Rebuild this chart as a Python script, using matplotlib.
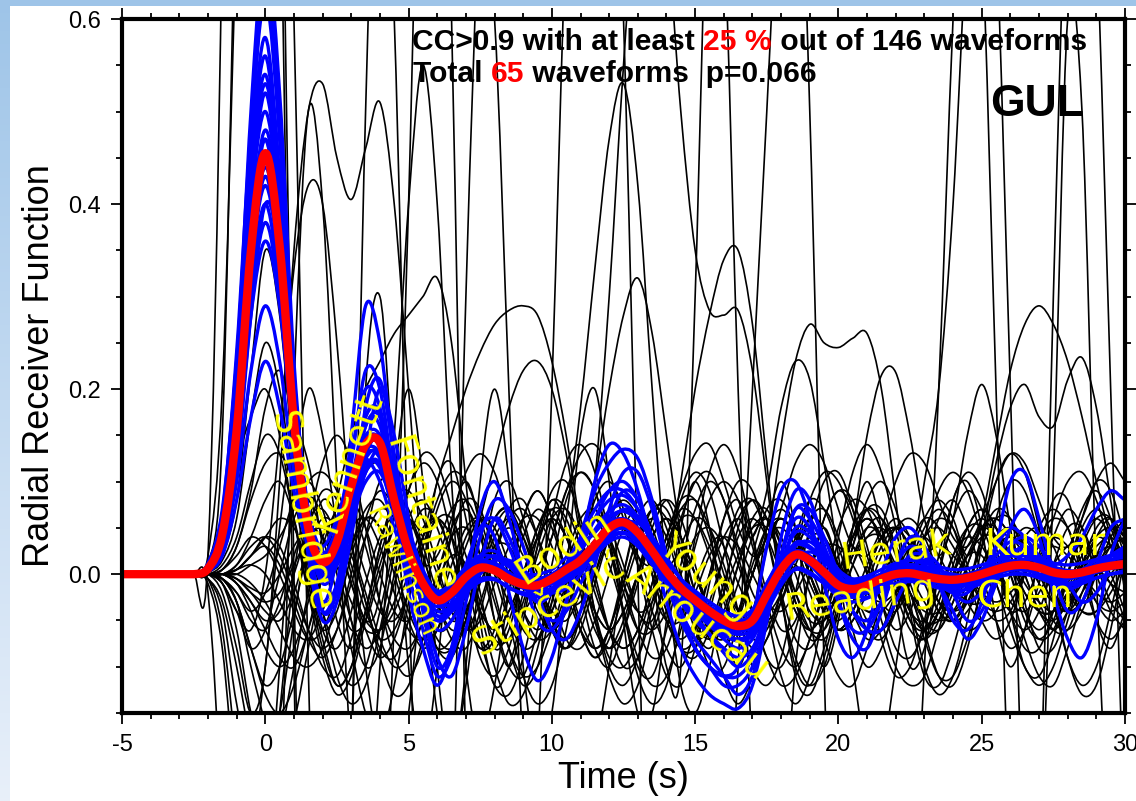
import numpy as np
import matplotlib
matplotlib.use("Agg")
import matplotlib.pyplot as plt
from matplotlib.patches import Rectangle, PathPatch
from matplotlib.path import Path
from matplotlib.ticker import MultipleLocator, FixedLocator, FixedFormatter

# ---------------- data (amplitudes in 1/1000 units) ----------------
# sample times: -2.5 s ... 30 s every 0.5 s (66 samples); all traces are 0 before -2.5 s
time_start = -5.0
time_samples = np.arange(-2.5, 30.01, 0.5)

mean_trace = [0,6,43,155,350,455,355,165,50,13, 35,95,140,142,80,25,-10,-28,-20,-3,
              7,4,-5,-11,-12,-5,5,15,32,50, 56,45,25,3,-15,-28,-40,-50,-56,-50,
              -22,5,21,15,2,-12,-16,-12,-5,0, 1,-2,-5,-6,-4,0,5,9,10,7, 2,0,2,6,9,11]

blue_01 = [0,10,60,220,500,680,520,230,60,0, 20,90,160,170,100,30,-20,-50,-40,-10, 20,25,10,-10,-20,-15,5,30,60,90, 100,80,40,0,-30,-50,-65,-80,-90,-80, -40,10,45,40,20,-5,-20,-25,-15,0, 10,5,-10,-20,-15,0,20,35,30,15, 0,-10,-5,10,20,25]
blue_02 = [0,4,35,120,280,360,290,140,40,-10, 10,60,110,120,70,20,-5,-20,-10,5, 15,10,0,-5,-5,0,10,20,35,45, 50,40,20,0,-15,-25,-35,-42,-45,-40, -15,10,25,18,5,-8,-10,-6,0,5, 8,5,0,-2,0,5,10,14,13,8, 4,2,5,10,12,14]
blue_03 = [0,12,70,230,450,580,430,190,40,-30, 20,150,290,250,120,40,0,-30,-40,-20, 0,15,15,5,-10,-20,-15,0,25,55, 70,60,35,5,-20,-40,-55,-70,-80,-70, -35,0,30,35,20,0,-15,-20,-10,5, 15,10,-5,-15,-10,5,15,20,15,5, -5,-10,-5,5,15,20]
blue_04 = [0,8,50,180,400,500,390,170,20,-50, -30,40,130,200,150,60,-30,-90,-110,-60, 10,60,40,0,-30,-50,-40,-10,20,60, 90,80,40,0,-40,-70,-90,-110,-130,-110, -50,20,70,60,30,-10,-40,-50,-30,0, 20,20,0,-20,-30,-20,0,20,30,20, 0,-15,-10,5,20,30]
blue_05 = [0,5,40,150,330,420,330,150,45,15, 40,90,130,125,70,20,-10,-25,-15,0, 10,8,-2,-10,-10,-4,6,16,30,45, 50,42,24,5,-12,-25,-35,-45,-50,-44, -20,5,18,13,3,-10,-13,-10,-3,2, 3,0,-3,-4,-2,2,7,10,10,7, 3,1,3,7,9,10]
blue_06 = [0,10,65,240,480,620,470,200,55,5, 40,120,220,200,100,20,-30,-60,-50,-20, 10,20,10,-5,-15,-10,10,35,60,80, 85,70,40,5,-25,-45,-65,-85,-100,-85, -40,10,50,45,25,5,-10,-15,-10,5, 15,15,5,-5,-5,5,15,25,25,15, 5,0,5,15,20,20]
blue_07 = [0,5,38,140,310,400,310,140,40,20, 50,100,135,130,75,25,-5,-20,-15,5, 15,10,0,-8,-8,0,10,20,30,40, 45,38,22,5,-10,-20,-30,-40,-45,-40, -15,10,22,17,5,-5,-8,-5,0,5, 5,2,-2,-3,-1,3,7,10,9,6, 2,0,2,5,8,10]
blue_08 = [0,6,45,165,370,480,380,175,50,5, 25,80,125,130,70,15,-20,-40,-35,-15, -5,-5,-15,-20,-20,-15,-5,5,20,35, 40,30,10,-10,-30,-40,-50,-60,-65,-60, -35,-10,5,0,-10,-20,-25,-20,-15,-10, -8,-10,-15,-15,-12,-8,-3,0,0,-3, -8,-10,-8,-4,0,2]
blue_09 = [0,7,50,180,400,520,400,180,55,20, 45,105,150,150,90,35,0,-18,-10,8, 20,18,8,0,0,5,18,30,45,62, 68,58,38,15,-5,-18,-30,-40,-45,-38, -10,18,32,28,15,2,-5,-2,5,12, 15,12,8,5,6,10,15,20,20,17, 12,10,12,16,20,22]
blue_10 = [0,4,30,120,290,380,300,150,55,30, 60,110,125,100,50,10,-15,-30,-20,0, 10,5,-5,-15,-15,-10,0,10,25,40, 45,35,15,-5,-25,-40,-50,-60,-60,-50, -20,10,25,20,5,-10,-15,-10,0,10, 10,5,-5,-10,-5,5,15,15,10,0, -5,-5,0,5,10,10]
blue_11 = [0,8,55,200,430,540,410,180,40,-40, -20,60,180,210,130,40,-40,-100,-80,-10, 70,100,60,0,-50,-60,-30,30,100,140, 130,90,30,-30,-80,-110,-130,-140,-145,-120, -50,40,90,80,30,-30,-70,-80,-40,10, 40,30,-10,-50,-60,-30,30,100,110,60, 0,-40,-30,10,50,60]
blue_12 = [0,6,45,160,360,470,360,160,30,-30, -10,70,160,160,80,0,-60,-110,-90,-30, 40,80,70,30,-20,-60,-70,-40,10,70, 110,110,70,10,-40,-80,-100,-120,-120,-100, -50,20,70,70,40,0,-40,-60,-60,-30, 0,20,10,-20,-50,-40,0,50,70,40, -20,-70,-90,-50,20,60]
blue_13 = [0,6,42,150,340,440,345,160,48,10, 30,90,138,140,82,28,-8,-25,-18,-2, 6,2,-8,-14,-14,-7,3,12,28,46, 52,42,22,0,-18,-32,-45,-55,-60,-54, -26,2,18,12,0,-14,-19,-15,-8,-3, -1,-4,-7,-8,-6,-2,3,7,8,5, 0,-2,0,4,7,9]
blue_14 = [0,7,47,170,380,470,365,170,52,16, 40,100,145,145,85,30,-5,-22,-16,0, 10,8,0,-6,-8,-2,8,18,36,55, 60,50,28,6,-12,-24,-36,-46,-52,-46, -18,8,24,18,4,-10,-14,-10,-2,3, 4,1,-2,-3,-1,3,8,12,12,9, 4,2,4,8,11,13]
blue_15 = [0,5,40,150,350,450,350,160,30,-40, -10,80,170,170,80,-20,-80,-120,-80,0, 50,40,-20,-80,-115,-90,-30,40,90,120, 135,125,80,20,-40,-80,-100,-110,-110,-90, -40,20,60,50,10,-30,-60,-60,-30,10, 30,20,-10,-40,-70,-50,-10,30,40,30, 10,-10,-30,-20,10,30]
blue_16 = [0,9,60,210,440,560,420,190,60,20, 50,130,200,180,90,20,-30,-50,-30,10, 50,60,30,-10,-30,-20,10,40,70,90, 90,70,30,-10,-50,-80,-100,-110,-100,-50, 30,90,100,60,-10,-70,-90,-60,0,40, 50,30,0,-20,-20,0,30,50,40,20, 10,20,40,70,90,80]
blue_17 = [0,3,20,80,170,230,180,90,30,0, 20,60,100,110,70,25,-5,-20,-15,0, 10,8,0,-8,-10,-5,5,15,28,40, 45,38,20,0,-15,-28,-38,-46,-50,-44, -18,5,18,14,3,-8,-12,-9,-3,2, 3,0,-3,-4,-2,2,6,9,9,6, 2,0,2,5,8,9]
blue_18 = [0,4,28,100,220,290,230,110,35,5, 30,80,120,115,65,15,-20,-35,-25,-5, 5,5,-5,-12,-12,-5,5,18,35,50, 55,45,25,0,-20,-35,-48,-58,-62,-55, -25,5,22,18,5,-8,-12,-8,0,4, 5,2,-2,-4,-2,3,8,12,12,8, 3,1,3,7,10,12]
blue_19 = [0,9,62,230,470,640,490,215,58,8, 30,100,170,175,95,25,-20,-45,-35,-8, 12,12,2,-10,-15,-8,6,25,48,68, 75,62,34,4,-22,-38,-52,-64,-70,-62, -28,8,34,30,14,-4,-14,-16,-8,4, 10,6,-4,-10,-8,2,14,22,20,12, 4,-2,2,10,16,18]
blue_20 = [0,5,40,145,330,430,335,150,40,-5, 15,70,115,120,65,10,-25,-45,-40,-20, -8,-6,-14,-22,-24,-18,-8,4,20,38, 44,34,14,-8,-28,-42,-55,-66,-72,-66, -40,-12,6,2,-10,-24,-30,-26,-18,-10, -6,-8,-14,-18,-16,-10,-4,0,0,-4, -10,-12,-10,-4,0,4]
blue_21 = [0,8,55,195,420,530,420,200,70,25, 30,80,130,150,110,50,5,-20,-25,-10, 5,15,12,2,-8,-10,-2,10,25,42, 55,55,40,18,-5,-22,-35,-46,-54,-56, -38,-8,16,24,16,4,-6,-10,-6,2, 8,8,4,0,-2,0,6,12,16,14, 8,4,4,8,12,14]
blue_22 = [0,4,30,115,280,400,350,200,70,10, 10,55,110,135,100,45,0,-30,-32,-15, 2,5,-5,-15,-20,-15,-5,8,25,42, 50,40,20,-5,-25,-40,-52,-60,-58,-42, -10,14,20,10,-6,-18,-22,-18,-10,-5, -4,-6,-10,-12,-10,-5,0,4,4,0, -4,-5,-2,2,6,8]

black_01 = [0,0,-20,-80,-150,-100,100,350,500,530, 450,405,460,510,400,200,0,-150,-200,-120, 0,80,100,60,0,-60,-80,-40,20,60, 50,10,-40,-80,-100,-60,0,60,80,40, -20,-60,-50,0,60,90,70,20,-30,-60, -40,10,60,80,50,0,-50,-80,-60,-10, 40,70,50,0,-40,-60]
black_02 = [0,0,-10,-40,-60,0,150,330,420,400, 250,50,-100,-200,-250,-150,0,100,120,60, -20,-80,-60,0,50,70,40,-10,-60,-80, -50,0,50,80,60,10,-40,-60,-40,0, 40,60,40,0,-40,-60,-40,0,40,50, 30,-10,-40,-50,-30,10,40,50,30,0, -30,-40,-20,10,30,40]
black_03 = [0,20,700,2000,2500,2000,1000,0,-800,-1200, -800,-200,200,300,100,-100,-200,-100,50,100, 50,-50,-100,-50,30,80,50,-20,-80,-100, -60,0,60,80,40,-20,-60,-50,-10,40, 60,40,0,-40,-50,-20,20,50,40,0, -40,-50,-20,20,40,30,0,-30,-40,-20, 10,30,30,10,-10,-20]
black_04 = [0,-10,-80,-250,-400,-300,-100,100,200,150, 50,-50,-100,-80,0,60,80,50,0,-50, -80,-60,0,60,90,60,0,-60,-90,-60, 0,60,80,50,0,-50,-70,-40,10,50, 60,30,-20,-60,-70,-40,10,50,60,30, -10,-50,-60,-30,10,50,60,40,0,-40, -60,-40,0,40,60,40]
black_05 = [0,-5,-40,-140,-200,-100,50,150,120,30, -50,-80,-40,30,80,70,20,-30,-60,-50, -10,30,50,30,-10,-40,-50,-20,20,50, 50,20,-20,-50,-50,-20,20,40,30,0, -30,-40,-20,10,30,30,10,-20,-30,-20, 0,20,30,20,0,-20,-30,-20,0,20, 30,20,0,-20,-30,-20]
black_06 = [0,5,40,120,170,200,150,60,-20,-60, -40,20,60,50,0,-50,-80,-60,-10,40, 60,40,0,-40,-60,-40,0,40,60,40, 0,-40,-60,-40,0,40,50,30,-10,-40, -50,-30,10,40,40,10,-20,-40,-30,0, 30,40,20,-10,-30,-30,-10,20,30,20, 0,-20,-30,-20,0,20]
black_07 = [0,2,20,80,220,350,280,120,10,-60, -80,-40,40,100,90,30,-30,-80,-90,-50, 10,60,70,30,-20,-60,-70,-40,10,60, 80,60,10,-40,-80,-90,-60,-10,40,60, 40,0,-40,-60,-40,0,40,60,40,0, -40,-60,-40,0,30,50,40,10,-20,-40, -40,-20,10,30,40,20]
black_08 = [0,2,15,60,170,250,200,90,0,-70, -120,-100,-40,20,60,60,20,-30,-70,-80, -40,20,70,80,40,-20,-70,-80,-50,0, 50,70,50,0,-50,-70,-60,-20,20,50, 50,20,-20,-50,-50,-20,20,40,40,10, -20,-40,-40,-10,20,40,40,20,-10,-30, -40,-20,0,20,30,20]
black_09 = [0,0,10,40,100,150,130,60,-20,-90, -130,-110,-50,10,50,60,40,0,-40,-60, -50,-10,30,60,60,30,-20,-60,-80,-60, -10,40,70,60,20,-30,-70,-80,-50,0, 50,70,50,10,-30,-60,-50,-20,20,50, 60,40,0,-40,-60,-50,-10,30,50,40, 10,-20,-40,-40,-20,10]
black_10 = [0,0,-5,-30,-80,-120,-100,-40,30,80, 60,0,-50,-20,150,400,550,400,100,-100, -180,-120,-20,60,90,60,0,-60,-90,-70, -20,30,70,70,30,-20,-60,-70,-40,10, 50,60,40,0,-40,-60,-50,-10,30,50, 40,10,-30,-50,-40,-10,30,50,40,10, -20,-40,-30,0,30,40]
black_11 = [0,0,0,-10,-30,-60,-90,-100,-60,0, 80,150,200,230,260,280,300,320,250,100, -50,-120,-100,-40,30,70,60,10,-50,-80, -60,-10,40,60,40,0,-40,-60,-40,0, 40,50,30,-10,-40,-50,-30,10,40,50, 30,0,-30,-40,-30,0,30,40,30,0, -30,-40,-30,0,20,30]
black_12 = [0,0,-5,-20,-50,-60,-30,20,60,70, 40,-10,-60,-90,-70,-20,40,100,150,200, 240,270,285,290,280,230,150,50,-40,-100, -120,-90,-30,30,70,80,50,0,-50,-80, -70,-30,20,60,70,40,-10,-50,-60,-40, 0,40,60,50,10,-30,-50,-40,0,40, 60,50,10,-30,-50,-40]
black_13 = [0,0,0,5,20,40,30,-10,-60,-100, -110,-70,-10,40,60,30,-20,-60,-50,0, 60,120,180,220,230,200,130,40,-40,-90, -100,-70,-20,30,60,60,30,-10,-40,-50, -30,0,30,50,40,10,-20,-40,-40,-20, 10,40,50,30,0,-30,-40,-30,0,30, 40,30,0,-30,-40,-30]
black_14 = [0,0,0,-10,-40,-80,-100,-80,-30,30, 70,70,30,-30,-70,-80,-50,0,50,70, 40,-20,-80,-120,-100,-30,60,180,330,470, 530,420,200,0,-120,-150,-100,-20,50,80, 60,10,-40,-60,-40,0,40,60,40,0, -40,-60,-40,0,40,60,40,0,-40,-60, -40,0,40,60,40,0]
black_15 = [0,0,0,5,20,30,10,-30,-70,-90, -60,0,60,90,70,20,-40,-80,-80,-40, 0,30,30,0,-40,-60,-40,20,100,200, 280,320,260,150,40,-50,-100,-100,-50,20, 70,80,50,0,-40,-60,-40,0,40,50, 30,0,-30,-40,-20,10,40,40,20,-10, -30,-30,-10,20,30,20]
black_16 = [0,0,-10,-40,-80,-60,0,60,80,40, -20,-60,-50,0,50,60,30,-20,-50,-40, 0,40,60,40,0,-50,-80,-40,100,300, 550,750,800,700,500,350,285,280,285,220, 100,-20,-100,-120,-80,-20,40,70,60,20, -20,-50,-50,-20,20,50,50,20,-20,-40, -40,-10,20,40,30,0]
black_17 = [0,0,5,20,40,30,0,-40,-70,-60, -20,30,60,50,10,-40,-70,-60,-20,30, 60,50,10,-40,-70,-60,-20,30,60,50, 10,-40,-50,0,100,200,280,340,350,270, 120,-20,-110,-130,-90,-30,30,70,70,30, -20,-60,-60,-30,10,50,60,40,0,-40, -50,-30,10,40,50,30]
black_18 = [0,0,0,-5,-20,-40,-50,-20,30,60, 50,10,-40,-70,-60,-20,30,60,60,20, -30,-70,-70,-30,20,60,70,40,-10,-60, -80,-60,-10,40,70,60,20,-30,-60,-40, 30,140,230,270,250,245,255,260,200,80, -40,-110,-120,-80,-20,40,70,60,20,-30, -60,-60,-20,20,50,40]
black_19 = [0,0,0,10,30,40,20,-20,-60,-80, -60,-10,40,70,60,20,-30,-70,-80,-50, 0,50,70,50,0,-50,-70,-50,0,50, 70,50,0,-50,-70,-50,0,40,60,40, 90,180,230,210,120,20,-60,-100,-80,-30, 30,60,50,10,-30,-50,-40,0,40,50, 30,-10,-40,-40,-10,20]
black_20 = [0,0,0,-5,-15,-20,0,30,50,40, 10,-30,-60,-60,-30,10,50,60,40,0, -40,-60,-40,0,40,60,40,0,-40,-60, -40,0,40,60,40,0,-40,-60,-40,0, 40,60,40,0,-30,-20,50,150,215,218, 150,60,20,60,150,205,150,50,-30,-80, -80,-40,10,50,60,30]
black_21 = [0,0,0,5,10,0,-30,-60,-70,-40, 10,50,60,30,-20,-60,-70,-40,10,50, 60,30,-20,-60,-70,-40,10,50,60,30, -20,-60,-60,-20,30,60,50,10,-40,-70, -60,-20,30,60,50,10,-40,-70,-60,-20, 20,60,80,60,20,60,140,220,270,290, 270,230,170,100,40,-10]
black_22 = [0,0,0,-5,-20,-30,-20,10,40,50, 30,-10,-50,-60,-40,0,40,60,40,0, -40,-60,-40,0,40,60,40,0,-40,-60, -40,0,40,60,40,0,-40,-60,-40,0, 40,60,40,0,-40,-60,-40,0,40,60, 40,0,-40,-50,-20,40,120,180,205,170, 160,210,234,180,80,-20]
black_23 = [0,10,150,800,1500,1500,800,-100,-800,-1200, -1300,-1100,-800,-400,-50,400,1000,1200,600,-200, -800,-1000,-900,-600,-200,200,700,1000,1100,1000, 600,0,-600,-900,-1000,-900,-700,-400,-100,200, 500,800,900,500,-100,-600,-800,-900,-800,-600, -400,-100,200,600,900,700,200,-300,-600,-300, 300,800,1000,700,200,-300]
black_24 = [0,20,200,700,1200,1400,1200,600,-100,-600, -700,-200,500,900,600,0,-500,-700,-300,300, 700,600,200,-200,-400,-500,-400,-300,-200,-100, 0,50,0,-100,-100,300,800,700,200,-200, -400,-300,-100,0,50,0,-100,-200,-200,-100, 0,100,200,400,700,900,700,200,-300,-300, 100,600,500,0,-300,-300]
black_25 = [0,-20,-300,-900,-1200,-900,-300,200,500,400, 100,-200,-300,-100,100,200,100,-100,-200,-100, 100,200,100,-100,-200,-150,0,150,200,100, -50,-150,-150,-50,50,100,50,-50,-100,-50, 50,100,50,-50,-100,-50,50,100,50,-30, -100,-80,0,80,100,50,-50,-100,-60,20, 80,80,20,-50,-80,-40]
black_26 = [0,-5,-60,-200,-350,-300,-150,0,80,60, 0,-80,-150,-180,-120,-30,40,60,20,-40, -80,-70,-20,40,70,50,0,-50,-80,-60, -10,40,60,40,-10,-60,-80,-50,10,60, 70,30,-30,-70,-60,-10,40,60,40,-10, -50,-60,-30,20,50,50,10,-40,-60,-40, 10,50,50,10,-30,-50]
black_27 = [0,0,0,0,-10,-30,-60,-90,-100,-80, -30,30,70,80,50,0,-50,-80,-70,-30, 20,60,70,40,-10,-60,-80,-60,-10,40, 70,60,10,-40,-80,-80,-40,20,70,80, 40,-20,-70,-80,-50,0,50,70,50,0, -50,-70,-50,0,50,70,50,0,-50,-70, -50,0,50,70,50,0]
black_28 = [0,0,-5,-20,-40,-20,30,80,100,70, 10,-50,-80,-60,-10,40,70,60,20,-30, -70,-80,-50,0,50,80,70,30,-20,-60, -80,-60,-10,40,80,80,40,-20,-70,-90, -70,-20,40,80,70,30,-20,-60,-70,-40, 10,50,70,50,0,-50,-70,-50,0,50, 70,50,0,-50,-70,-50]
black_29 = [0,0,-5,-30,-80,-130,-150,-120,-60,0, 30,20,-30,-90,-130,-120,-70,-10,20,10, -40,-100,-140,-130,-80,-20,10,0,-50,-110, -140,-120,-60,0,20,0,-50,-110,-140,-110, -50,0,10,-20,-70,-110,-120,-80,-30,0, -20,-70,-110,-110,-70,-20,0,-20,-70,-110, -120,-80,-30,0,-10,-50]
black_30 = [0,0,5,30,80,120,130,100,50,20, 30,70,110,120,90,40,10,20,60,110, 130,110,60,20,10,40,90,130,140,110, 60,20,10,40,90,130,140,100,50,20, 30,70,120,140,120,70,30,20,50,100, 130,120,80,40,30,60,100,130,120,80, 40,30,60,100,120,100]
black_31 = [0,0,0,10,40,80,100,60,-10,-80, -120,-100,-40,30,80,90,60,10,-40,-60, -30,20,60,70,40,0,-30,-30,0,40, 60,40,0,-50,-80,-70,-30,20,60,80, 60,20,-30,-60,-60,-30,10,40,50,30, 0,-30,-50,-40,-10,30,60,60,30,-10, -50,-60,-40,0,40,60]
black_32 = [0,0,-5,-30,-100,-160,-200,-160,-80,0, 60,80,50,0,-40,-50,-20,30,70,80, 50,0,-50,-80,-70,-30,20,60,70,40, -10,-60,-90,-80,-30,30,80,100,80,30, -30,-80,-100,-70,-10,50,80,70,30,-20, -60,-70,-40,10,50,70,50,10,-40,-70, -60,-20,30,60,60,20]
black_33 = [0,0,0,-10,-30,-50,-40,0,50,90, 80,30,-30,-80,-90,-50,10,70,100,80, 20,-50,-100,-110,-60,10,80,110,90,30, -40,-100,-110,-60,10,70,100,80,20,-40, -90,-100,-60,0,60,90,80,30,-30,-80, -90,-60,0,60,90,70,20,-40,-80,-80, -40,20,70,90,60,0]
black_34 = [0,0,0,5,20,40,60,50,10,-40, -90,-120,-100,-40,30,90,120,100,40,-30, -90,-110,-80,-20,40,90,100,60,0,-60, -100,-90,-40,20,80,110,90,30,-40,-100, -120,-90,-20,50,100,110,70,0,-70,-110, -100,-50,20,80,110,90,30,-40,-100,-110, -70,0,60,100,90,40]
black_35 = [0,-5,-30,-100,-180,-220,-180,-100,-20,40, 60,30,-20,-70,-100,-90,-50,0,40,50, 20,-30,-80,-110,-100,-60,-10,30,40,10, -40,-90,-120,-110,-60,-10,30,40,10,-40, -90,-120,-110,-70,-20,20,30,0,-50,-100, -120,-110,-60,-10,20,20,-10,-60,-100,-120, -100,-50,0,20,0,-40]
black_36 = [0,0,0,0,10,20,40,70,100,110, 90,50,0,-40,-50,-20,30,80,110,100, 60,10,-30,-40,-10,40,90,110,90,40, -10,-40,-30,10,60,100,110,80,30,-20, -40,-20,30,80,110,100,60,10,-30,-40, -10,40,90,110,90,40,-10,-40,-30,10, 60,100,110,80,30,-10]
black_37 = [0,0,-10,-60,-150,-200,-150,-50,50,120, 150,120,50,-30,-90,-110,-80,-20,40,80, 70,20,-50,-110,-140,-120,-60,20,80,100, 70,10,-60,-110,-120,-80,-10,60,100,90, 40,-30,-90,-120,-100,-40,30,80,100,70, 10,-60,-110,-120,-80,-10,60,100,90,40, -30,-90,-120,-100,-40,30]
black_38 = [0,0,5,30,90,180,220,160,60,-40, -110,-140,-120,-60,20,90,130,120,70,0, -70,-120,-130,-90,-20,60,120,140,110,40, -40,-110,-140,-120,-50,40,110,140,110,40, -40,-110,-140,-110,-40,40,110,140,110,50, -30,-100,-130,-110,-50,30,100,130,110,50, -20,-90,-130,-120,-60,20]

station_names = ["Sambridge", "Kennett", "Fontaine", "Rawlinson", "Bodin", "Stipčević",
                 "Young", "Arroucau", "Herak", "Reading", "Kumar", "Chen"]
x_ticks = [-5, 0, 5, 10, 15, 20, 25, 30]
y_ticks = [0.0, 0.2, 0.4, 0.6]

# ---------------- figure ----------------
W, H = 1136, 801
fig = plt.figure(figsize=(W / 100, H / 100), dpi=100)

# slide-like background
bg = fig.add_axes([0, 0, 1, 1], zorder=-10)
grad = np.linspace(0, 1, 256).reshape(-1, 1)
top_c = np.array([0.62, 0.77, 0.91])
bot_c = np.array([0.91, 0.94, 0.98])
img = top_c[None, None, :] * (1 - grad[:, :, None]) + bot_c[None, None, :] * grad[:, :, None]
bg.imshow(img, aspect="auto", extent=[0, 1, 0, 1], origin="upper")
bg.add_patch(Rectangle((10 / W, 0), 1 - 10 / W, 1 - 6 / H, transform=bg.transAxes,
                       facecolor="white", edgecolor="none"))
bg.set_xlim(0, 1); bg.set_ylim(0, 1)
bg.axis("off")

ax = fig.add_axes([122 / W, 1 - 713 / H, (1125 - 122) / W, (713 - 19) / H])
ax.set_facecolor("white")

blues = [blue_01, blue_02, blue_03, blue_04, blue_05, blue_06, blue_07, blue_08, blue_09, blue_10,
         blue_11, blue_12, blue_13, blue_14, blue_15, blue_16, blue_17, blue_18, blue_19, blue_20,
         blue_21, blue_22]
blacks = [black_01, black_02, black_03, black_04, black_05, black_06, black_07, black_08,
          black_09, black_10, black_11, black_12, black_13, black_14, black_15, black_16,
          black_17, black_18, black_19, black_20, black_21, black_22, black_23, black_24,
          black_25, black_26, black_27, black_28, black_29, black_30, black_31, black_32,
          black_33, black_34, black_35, black_36, black_37, black_38]

bad = [(i, len(v)) for i, v in enumerate(blues + blacks + [mean_trace]) if len(v) != len(time_samples)]
if bad:
    raise SystemExit("length mismatch: %s" % bad)

def trace_path(vals):
    """Smooth (cubic Hermite/Bezier) path through the sampled values, flat before -2.5 s."""
    x = time_samples
    y = np.asarray(vals, float) / 1000.0
    h = x[1] - x[0]
    m = np.empty_like(y)
    m[1:-1] = (y[2:] - y[:-2]) / (2 * h)
    m[0] = (y[1] - 0.0) / (2 * h)
    m[-1] = (y[-1] - y[-2]) / h
    verts = [(time_start, 0.0), (x[0], y[0])]
    codes = [Path.MOVETO, Path.LINETO]
    for i in range(len(x) - 1):
        verts += [(x[i] + h / 3, y[i] + m[i] * h / 3),
                  (x[i + 1] - h / 3, y[i + 1] - m[i + 1] * h / 3),
                  (x[i + 1], y[i + 1])]
        codes += [Path.CURVE4] * 3
    return Path(verts, codes)

def draw(vals, color, lw, z):
    ax.add_patch(PathPatch(trace_path(vals), facecolor="none", edgecolor=color, lw=lw,
                           zorder=z, joinstyle="round", capstyle="butt"))

for v in blacks:
    draw(v, "black", 1.2, 1)
for v in blues:
    draw(v, "#0000ff", 2.4, 2)
draw(mean_trace, "#ff0000", 6.0, 3)

ax.set_xlim(-5, 30)
ax.set_ylim(-0.15, 0.6)

TF = "Liberation Sans"
ax.xaxis.set_major_locator(FixedLocator(x_ticks))
ax.xaxis.set_major_formatter(FixedFormatter([str(v) for v in x_ticks]))
ax.xaxis.set_minor_locator(MultipleLocator(1))
ax.yaxis.set_major_locator(FixedLocator(y_ticks))
ax.yaxis.set_major_formatter(FixedFormatter(["%.1f" % v for v in y_ticks]))
ax.yaxis.set_minor_locator(MultipleLocator(0.05))
ax.tick_params(which="both", direction="out", top=True, right=True, width=1.3, colors="black")
ax.tick_params(which="major", length=8, labelsize=17, pad=7)
ax.tick_params(which="minor", length=4)
for lab in ax.get_xticklabels() + ax.get_yticklabels():
    lab.set_family(TF)
for s in ax.spines.values():
    s.set_linewidth(3.0)
    s.set_zorder(6)

fig.text(40 / W, 1 - 366 / H, "Radial Receiver Function", rotation=90, ha="center", va="center",
         fontsize=26, family=TF)
fig.text(623 / W, 1 - 778 / H, "Time (s)", ha="center", va="center", fontsize=26, family=TF)

# header lines with coloured pieces
renderer = fig.canvas.get_renderer()

def text_width(s, fs):
    t1 = fig.text(0, 0, s + "|", fontsize=fs, fontweight="bold", family=TF)
    t2 = fig.text(0, 0, "|", fontsize=fs, fontweight="bold", family=TF)
    w = t1.get_window_extent(renderer).width - t2.get_window_extent(renderer).width
    t1.remove(); t2.remove()
    return w

def parts_line(x_px, y_px, parts, fs):
    x = x_px
    for s, c in parts:
        fig.text(x / W, 1 - y_px / H, s, color=c, fontsize=fs, fontweight="bold", family=TF,
                 ha="left", va="baseline", zorder=10)
        x += text_width(s, fs)

parts_line(412, 50, [("CC>0.9 with at least ", "black"), ("25 %", "#ff0000"),
                     (" out of 146 waveforms", "black")], 21.6)
parts_line(413, 82, [("Total ", "black"), ("65", "#ff0000"), (" waveforms  p=0.066", "black")], 21.6)
fig.text(1037 / W, 1 - 116 / H, "GUL", ha="center", va="baseline", fontsize=32,
         fontweight="bold", family=TF)

# yellow labels along the stack
lab_t = [1.22, 2.9, 5.41, 4.75, 10.4, 9.87, 15.35, 15.1, 22.0, 20.76, 27.2, 26.5]
lab_y = [0.068, 0.122, 0.065, 0.003, 0.029, -0.032, -0.003, -0.052, 0.025, -0.027, 0.032, -0.024]
lab_rot = [-79, 71, -72, -66, 33, 30, -40, -37, 8, 8, 0, 0]
lab_fs = [27, 27, 27, 20, 27, 27, 27, 27, 27, 27, 27, 27]
for name, t, y, r, fs in zip(station_names, lab_t, lab_y, lab_rot, lab_fs):
    ax.text(t, y, name, color="#ffff00", fontsize=fs, family="DejaVu Sans", rotation=r,
            rotation_mode="anchor", ha="center", va="center", zorder=5)

fig.savefig("out.png", dpi=100)
